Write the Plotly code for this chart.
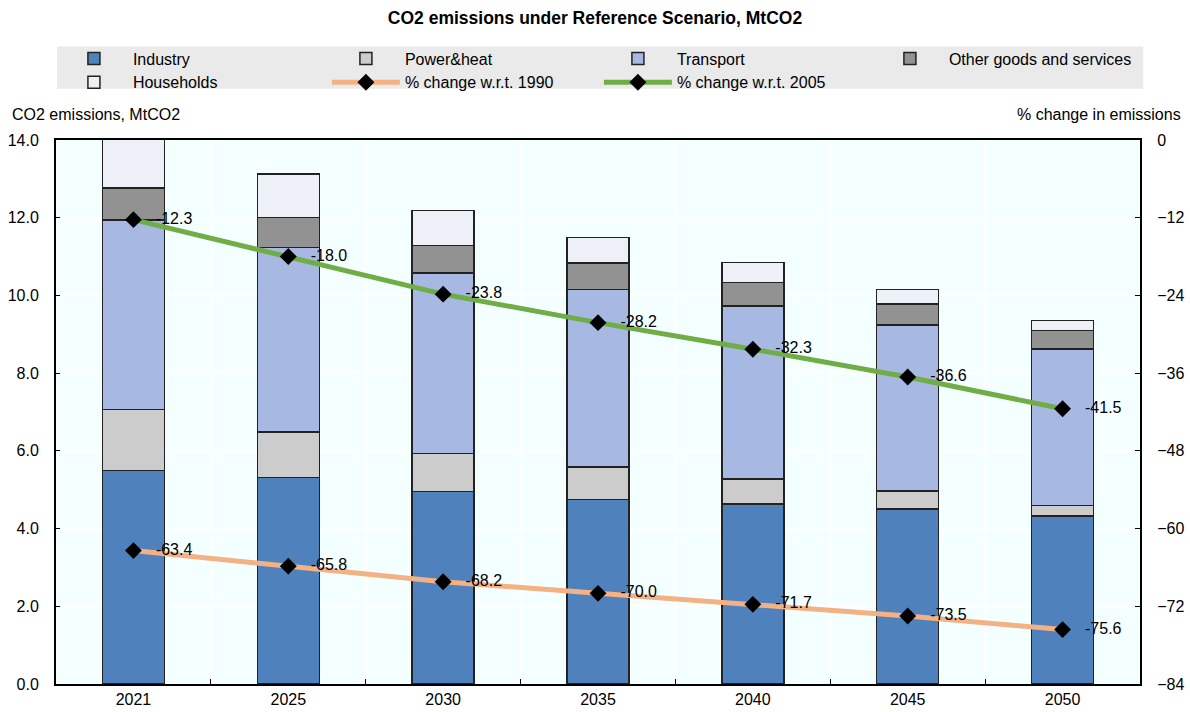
import plotly.graph_objects as go

years = ["2021", "2025", "2030", "2035", "2040", "2045", "2050"]
industry = [5.50, 5.31, 4.96, 4.75, 4.63, 4.51, 4.32]
power_heat = [1.56, 1.17, 0.97, 0.84, 0.65, 0.46, 0.28]
transport = [4.88, 4.75, 4.65, 4.56, 4.45, 4.27, 4.02]
other_goods = [0.83, 0.78, 0.71, 0.68, 0.60, 0.54, 0.48]
households = [1.35, 1.11, 0.89, 0.66, 0.52, 0.37, 0.26]
chg_1990 = [-63.4, -65.8, -68.2, -70.0, -71.7, -73.5, -75.6]
chg_2005 = [-12.3, -18.0, -23.8, -28.2, -32.3, -36.6, -41.5]

FONT = "Liberation Sans Narrow, Arial Narrow, Liberation Sans, Arial, sans-serif"
PAD = "\u00a0\u00a0\u00a0"

fig = go.Figure()
bar_specs = [
    ("Industry", industry, "#4F81BD"),
    ("Power&heat", power_heat, "#CCCCCC"),
    ("Transport", transport, "#A7B9E3"),
    ("Other goods and services", other_goods, "#929292"),
    ("Households", households, "#EEF0F8"),
]
for name, vals, col in bar_specs:
    fig.add_trace(go.Bar(
        x=years, y=vals, name=name,
        marker=dict(color=col, line=dict(color="#222222", width=1.5)),
    ))

for name, vals, col in [("% change w.r.t. 1990", chg_1990, "#F4B183"),
                        ("% change w.r.t. 2005", chg_2005, "#70AD47")]:
    fig.add_trace(go.Scatter(
        x=years, y=vals, name=name, yaxis="y2",
        mode="lines+markers+text",
        line=dict(color=col, width=5),
        marker=dict(symbol="diamond", size=13, color="black"),
        text=[PAD + f"{v:.1f}" for v in vals],
        textposition="middle right",
        textfont=dict(family=FONT, size=16, color="black"),
        cliponaxis=False,
    ))

fig.update_layout(
    width=1190, height=712,
    margin=dict(l=56, r=50, t=140, b=28, autoexpand=False),
    barmode="stack", bargap=0.6,
    plot_bgcolor="#F4FFFF", paper_bgcolor="white",
    font=dict(family=FONT, size=16, color="black"),
    title=dict(text="<b>CO2 emissions under Reference Scenario, MtCO2</b>",
               x=0.5, xanchor="center", y=0.975, yanchor="middle",
               font=dict(family=FONT, size=17.5, color="black")),
    showlegend=True,
    legend=dict(orientation="h", x=-0.001, xanchor="left", y=1.181, yanchor="top",
                entrywidth=189, entrywidthmode="pixels", itemwidth=68,
                bgcolor="rgba(0,0,0,0)", font=dict(family=FONT, size=16),
                tracegroupgap=0, traceorder="normal", itemclick=False),
    xaxis=dict(type="category", tickson="boundaries", ticks="inside", ticklen=5,
               tickcolor="black", showgrid=True, gridcolor="white", gridwidth=1.5,
               showline=True, linecolor="black", linewidth=2, mirror=True,
               tickfont=dict(family=FONT, size=16)),
    yaxis=dict(range=[0, 14], dtick=2, tickformat=".1f", ticks="inside", ticklen=4,
               tickcolor="black", showgrid=True, gridcolor="white", gridwidth=1.5,
               showline=True, linecolor="black", linewidth=2, mirror=True,
               zeroline=False, ticklabelstandoff=12,
               tickfont=dict(family=FONT, size=16)),
    yaxis2=dict(range=[-84, 0], dtick=12, overlaying="y", side="right",
                ticks="inside", ticklen=5, tickcolor="black", showgrid=False,
                zeroline=False, showline=True, linecolor="black", linewidth=2,
                ticklabelstandoff=12, tickfont=dict(family=FONT, size=16)),
    shapes=[dict(type="rect", xref="paper", yref="paper",
                 x0=0.001, x1=1.003, y0=1.094, y1=1.172,
                 fillcolor="#EAEAEA", line=dict(width=0), layer="below")],
    annotations=[
        dict(text="CO2 emissions, MtCO2", xref="paper", yref="paper",
             x=-0.042, y=1.046, xanchor="left", yanchor="middle", showarrow=False,
             font=dict(family=FONT, size=16)),
        dict(text="% change in emissions", xref="paper", yref="paper",
             x=1.04, y=1.046, xanchor="right", yanchor="middle", showarrow=False,
             font=dict(family=FONT, size=16)),
    ],
)

fig.write_html("out.html", config={"displayModeBar": False},
               post_script="document.body.style.margin='0';")
